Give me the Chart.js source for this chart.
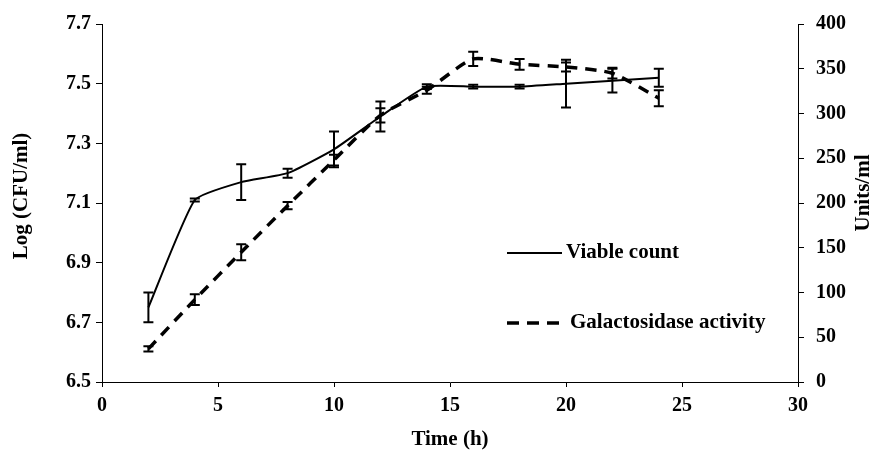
<!DOCTYPE html>
<html>
<head>
<meta charset="utf-8">
<script src="https://cdn.jsdelivr.net/npm/chart.js@4.4.0/dist/chart.umd.min.js"></script>
<style>
html, body { margin:0; padding:0; background:#fff; }
#wrap { position:relative; width:891px; height:455px; }
</style>
</head>
<body>
<div id="wrap"><canvas id="myChart"></canvas></div>
<script>
// data
const times = [2, 4, 6, 8, 10, 12, 14, 16, 18, 20, 22, 24];
const viableCount = [6.75, 7.11, 7.17, 7.20, 7.28, 7.39, 7.49, 7.49, 7.49, 7.50, 7.51, 7.52];
const viableErr = [0.05, 0.005, 0.06, 0.015, 0.06, 0.05, 0.008, 0.006, 0.006, 0.08, 0.04, 0.03];
const galactosidase = [37, 92, 145, 197, 248, 298, 326, 361, 355, 352, 345, 317];
const galactosidaseErr = [3, 6, 9, 4, 6, 8, 4, 8, 6, 5, 6, 9];

const xTicks = [0, 5, 10, 15, 20, 25, 30];
const leftTicks = [6.5, 6.7, 6.9, 7.1, 7.3, 7.5, 7.7];
const rightTicks = [0, 50, 100, 150, 200, 250, 300, 350, 400];

const seriesNames = ['Viable count', 'Galactosidase activity'];
const xTitle = 'Time (h)', leftTitle = 'Log (CFU/ml)', rightTitle = 'Units/ml';

const FONT = '"Liberation Serif", "Times New Roman", serif';
const tickFont = { family: FONT, size: 20, weight: 'bold' };

const toPoints = (ys) => times.map((t, i) => ({ x: t, y: ys[i] }));
const setTicks = (list) => (scale) => { scale.ticks = list.map(v => ({ value: v })); };

// error bars, legend, y titles
const extras = {
    id: 'extras',
    afterDatasetsDraw(chart) {
        const ctx = chart.ctx;
        const xs = chart.scales.x;
        const bars = [
            { scale: chart.scales.y, vals: viableCount, errs: viableErr },
            { scale: chart.scales.y1, vals: galactosidase, errs: galactosidaseErr }
        ];
        ctx.save();
        ctx.strokeStyle = '#000';
        ctx.lineWidth = 2;
        bars.forEach(b => {
            times.forEach((t, i) => {
                const px = xs.getPixelForValue(t);
                const top = b.scale.getPixelForValue(b.vals[i] + b.errs[i]);
                const bot = b.scale.getPixelForValue(b.vals[i] - b.errs[i]);
                ctx.beginPath();
                ctx.moveTo(px, top); ctx.lineTo(px, bot);
                ctx.moveTo(px - 5, top); ctx.lineTo(px + 5, top);
                ctx.moveTo(px - 5, bot); ctx.lineTo(px + 5, bot);
                ctx.stroke();
            });
        });
        ctx.restore();
    },
    afterDraw(chart) {
        const ctx = chart.ctx;
        ctx.save();
        // legend
        ctx.fillStyle = '#000';
        ctx.strokeStyle = '#000';
        ctx.font = 'bold 21px ' + FONT;
        ctx.textBaseline = 'middle';
        ctx.lineWidth = 2;
        ctx.beginPath();
        ctx.moveTo(507, 253); ctx.lineTo(562, 253);
        ctx.stroke();
        ctx.fillText(seriesNames[0], 566, 253);
        ctx.lineWidth = 3.5;
        ctx.setLineDash([12, 8]);
        ctx.beginPath();
        ctx.moveTo(507, 323); ctx.lineTo(563, 323);
        ctx.stroke();
        ctx.setLineDash([]);
        ctx.fillText(seriesNames[1], 570, 323);
        // y titles
        ctx.textAlign = 'center';
        ctx.translate(22, 196);
        ctx.rotate(-Math.PI / 2);
        ctx.fillText(leftTitle, 0, 0);
        ctx.setTransform(1, 0, 0, 1, 0, 0);
        ctx.translate(864, 193);
        ctx.rotate(-Math.PI / 2);
        ctx.fillText(rightTitle, 0, 0);
        ctx.restore();
    }
};

const ctx = document.getElementById('myChart').getContext('2d');
const myChart = new Chart(ctx, {
    type: 'line',
    data: {
        datasets: [
            {
                label: seriesNames[0],
                data: toPoints(viableCount),
                yAxisID: 'y',
                borderColor: '#000',
                borderWidth: 2,
                pointRadius: 0,
                tension: 0.15,
                fill: false
            },
            {
                label: seriesNames[1],
                data: toPoints(galactosidase),
                yAxisID: 'y1',
                borderColor: '#000',
                borderWidth: 3.5,
                borderDash: [11, 8],
                pointRadius: 0,
                tension: 0.2,
                fill: false
            }
        ]
    },
    options: {
        responsive: true,
        maintainAspectRatio: false,
        animation: false,
        layout: { padding: { top: 20, left: 0, right: 0, bottom: 0 } },
        plugins: {
            legend: { display: false },
            tooltip: { enabled: false }
        },
        scales: {
            x: {
                type: 'linear',
                min: 0, max: 30,
                afterBuildTicks: setTicks(xTicks),
                afterFit: (s) => { s.height = 73; },
                grid: { drawOnChartArea: false, drawTicks: true, tickLength: 5, color: '#000' },
                border: { display: true, color: '#000', width: 1 },
                ticks: { color: '#000', font: tickFont, padding: 7, maxRotation: 0 },
                title: { display: true, text: xTitle, color: '#000', font: { family: FONT, size: 21, weight: 'bold' }, padding: { top: 0, bottom: 3 } }
            },
            y: {
                type: 'linear',
                position: 'left',
                min: 6.5, max: 7.7,
                afterBuildTicks: setTicks(leftTicks),
                afterFit: (s) => { s.width = 102; },
                grid: { drawOnChartArea: false, drawTicks: true, tickLength: 6, color: '#000' },
                border: { display: true, color: '#000', width: 1 },
                ticks: { color: '#000', font: tickFont, padding: 5, callback: (v) => v.toFixed(1) }
            },
            y1: {
                type: 'linear',
                position: 'right',
                min: 0, max: 400,
                afterBuildTicks: setTicks(rightTicks),
                afterFit: (s) => { s.width = 93; },
                grid: { drawOnChartArea: false, drawTicks: true, tickLength: 6, color: '#000' },
                border: { display: true, color: '#000', width: 1 },
                ticks: { color: '#000', font: tickFont, padding: 12 }
            }
        }
    },
    plugins: [extras]
});
</script>
</body>
</html>
